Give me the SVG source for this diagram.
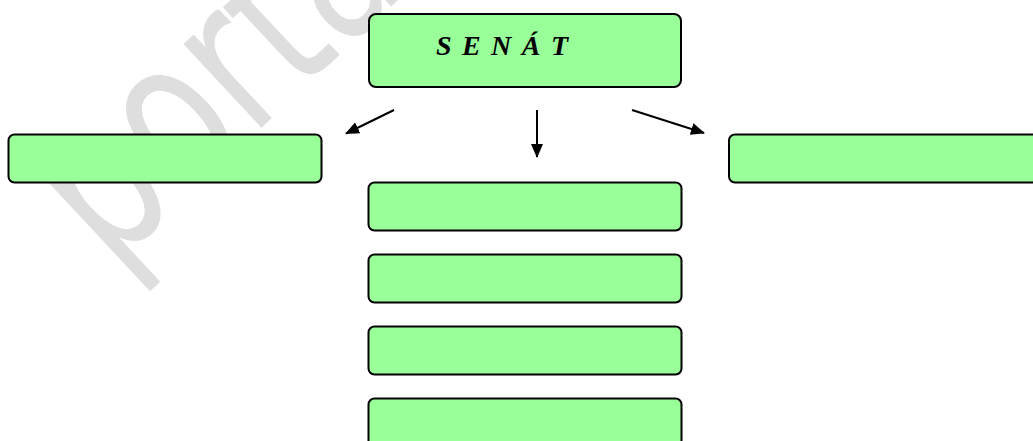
<svg xmlns="http://www.w3.org/2000/svg" width="1033" height="441" viewBox="0 0 1033 441">
<style>
.box{fill:#99ff99;stroke:#000;stroke-width:2}
.conn{stroke:#000;stroke-width:2;fill:none}
.wm{fill:#dedede;font-family:"DejaVu Sans",sans-serif}
.title{font-family:"Liberation Serif",serif;font-weight:bold;font-style:italic;font-size:28px;fill:#000}
</style>
<defs>
<marker id="ah" viewBox="0 0 14 12" refX="13" refY="6" markerWidth="14" markerHeight="12" orient="auto" markerUnits="userSpaceOnUse">
<path d="M0,0 L14,6 L0,12 z" fill="#000"/>
</marker>
</defs>
<rect width="1033" height="441" fill="#fff"/>
<text class="wm" font-size="155" transform="translate(110,269) rotate(-43) scale(1,1.35)">portal</text>
<g id="connectors">
<line class="conn" x1="394" y1="110" x2="346" y2="133.5" marker-end="url(#ah)"/>
<line class="conn" x1="537" y1="110" x2="537" y2="157" marker-end="url(#ah)"/>
<line class="conn" x1="632" y1="110" x2="704" y2="133" marker-end="url(#ah)"/>
</g>
<g id="senat">
<rect class="box" x="369" y="14" width="312" height="73" rx="7"/>
<text class="title" x="436" y="55" textLength="132" lengthAdjust="spacing">S E N Á T</text>
</g>
<g id="left"><rect class="box" x="8.5" y="134.5" width="313" height="48" rx="6"/></g>
<g id="right"><rect class="box" x="729" y="134.5" width="313" height="48" rx="6"/></g>
<g id="mid1"><rect class="box" x="368.5" y="182.5" width="313" height="48" rx="6"/></g>
<g id="mid2"><rect class="box" x="368.5" y="254.5" width="313" height="48" rx="6"/></g>
<g id="mid3"><rect class="box" x="368.5" y="326.5" width="313" height="48" rx="6"/></g>
<g id="mid4"><rect class="box" x="368.5" y="398.5" width="313" height="48" rx="6"/></g>
</svg>
